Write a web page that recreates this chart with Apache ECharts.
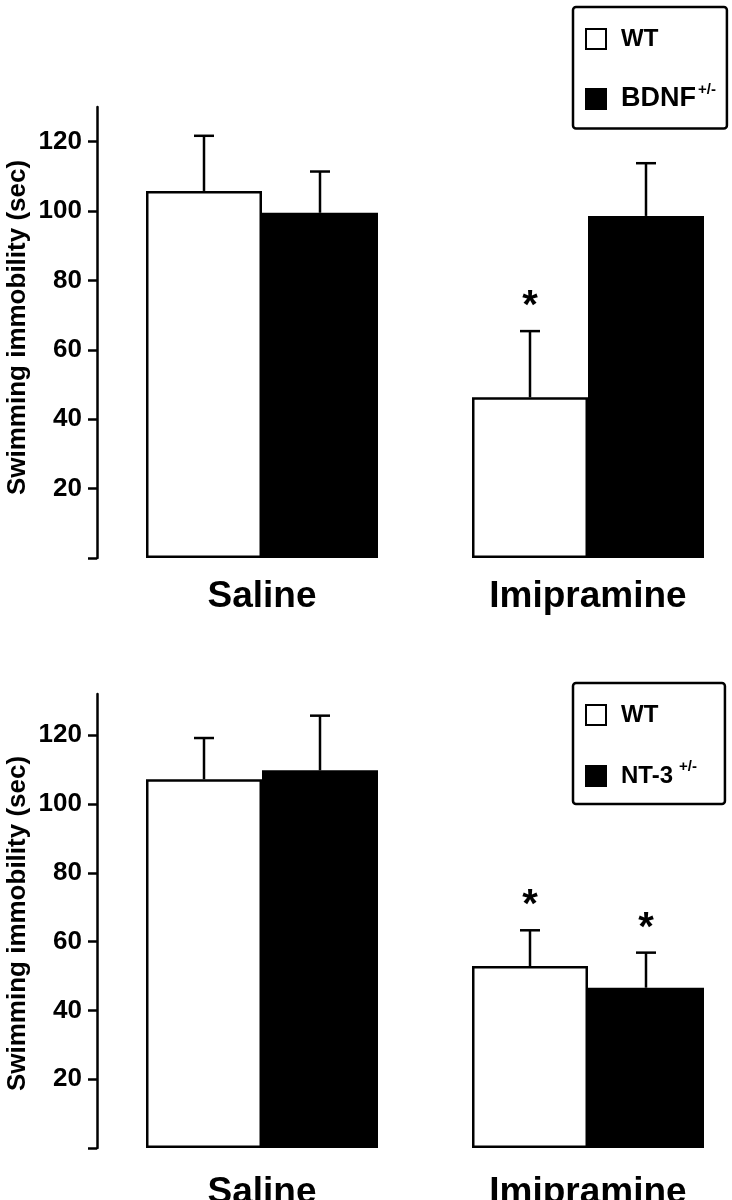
<!DOCTYPE html>
<html><head><meta charset="utf-8">
<script src="https://cdn.jsdelivr.net/npm/echarts@6/dist/echarts.min.js"></script>
<style>html,body{margin:0;padding:0;background:#fff}#c{width:732px;height:1200px}</style>
</head><body><div id="c"></div>
<script>
// ---------- data ----------
const categories = ['Saline', 'Imipramine'];
const yTickValues = [0, 20, 40, 60, 80, 100, 120];
const yLabelValues = [20, 40, 60, 80, 100, 120];
const yTitle = 'Swimming immobility (sec)';
const genotypeSuffix = '+/-';

// Panel 1 (BDNF)
const p1Names = ['WT', 'BDNF'];
const p1WT = [105.8, 46.3];
const p1WTErr = [15.9, 19.1];
const p1Mut = [99.5, 98.6];
const p1MutErr = [11.9, 15.2];
const p1WTSig = [0, 1];
const p1MutSig = [0, 0];

// Panel 2 (NT-3)
const p2Names = ['WT', 'NT-3'];
const p2WT = [107.2, 52.9];
const p2WTErr = [12.0, 10.4];
const p2Mut = [109.8, 46.6];
const p2MutErr = [15.9, 10.2];
const p2WTSig = [0, 1];
const p2MutSig = [0, 1];

// ---------- style ----------
const F = '"Liberation Sans", Arial, Helvetica, sans-serif';
const BAR_W = 116;
const CAP = 20;
const LW = 2.5;

function errData(wt, wtErr, wtSig, mut, mutErr, mutSig) {
  const d = [];
  categories.forEach((c, i) => {
    d.push([i, wt[i], wtErr[i], -1, wtSig[i]]);
    d.push([i, mut[i], mutErr[i], 1, mutSig[i]]);
  });
  return d;
}

function errRender(params, api) {
  const cat = api.value(0), mean = api.value(1), err = api.value(2), side = api.value(3), sig = api.value(4);
  const base = api.coord([cat, mean]);
  const top = api.coord([cat, mean + err]);
  const x = base[0] + side * BAR_W / 2;
  const ch = [
    {type: 'line', shape: {x1: x, y1: base[1], x2: x, y2: top[1]}, style: {stroke: '#000', lineWidth: LW}},
    {type: 'line', shape: {x1: x - CAP / 2, y1: top[1], x2: x + CAP / 2, y2: top[1]}, style: {stroke: '#000', lineWidth: LW}}
  ];
  if (sig) {
    ch.push({type: 'text', x: x, y: top[1] - 24,
      style: {text: '*', font: 'bold 40px ' + F, fill: '#000', align: 'center', verticalAlign: 'middle'}});
  }
  return {type: 'group', children: ch};
}

function yAxis(gi, max, namePad) {
  return {
    type: 'value', gridIndex: gi, min: 0, max: max, interval: 20, offset: 2,
    name: yTitle, nameLocation: 'middle', nameRotate: 90, nameGap: 66, nameMoveOverlap: false,
    nameTextStyle: {fontFamily: F, fontWeight: 'bold', fontSize: 26, color: '#000', padding: namePad},
    axisLine: {show: true, lineStyle: {color: '#000', width: LW}},
    axisTick: {show: true, length: 9, lineStyle: {color: '#000', width: LW}, customValues: yTickValues},
    axisLabel: {margin: 15, fontFamily: F, fontWeight: 'bold', fontSize: 26, color: '#000', customValues: yLabelValues},
    splitLine: {show: false}
  };
}
function xAxis(gi, margin) {
  return {
    type: 'category', gridIndex: gi, data: categories,
    axisLine: {show: false}, axisTick: {show: false},
    axisLabel: {margin: margin, fontFamily: F, fontWeight: 'bold', fontSize: 37, color: '#000'}
  };
}
function bars(gi, names, wt, mut) {
  return [
    {type: 'bar', name: names[0], xAxisIndex: gi, yAxisIndex: gi, data: wt, barWidth: BAR_W, barGap: '0%',
      itemStyle: {color: '#fff', borderColor: '#000', borderWidth: LW}},
    {type: 'bar', name: names[1], xAxisIndex: gi, yAxisIndex: gi, data: mut, barWidth: BAR_W, barGap: '0%',
      itemStyle: {color: '#000', borderColor: '#000', borderWidth: LW}}
  ];
}
function legend(names, top, gap, padding, mutSize, supPad, supLH) {
  return {
    orient: 'vertical', left: 573, top: top, itemGap: gap, padding: padding,
    borderColor: '#000', borderWidth: LW, borderRadius: 3, selectedMode: false,
    icon: 'rect', itemWidth: 20, itemHeight: 20,
    data: [
      {name: names[0], itemStyle: {color: '#fff', borderColor: '#000', borderWidth: 2}},
      {name: names[1], itemStyle: {color: '#000', borderColor: '#000', borderWidth: 2}}
    ],
    formatter: n => n === names[0] ? '{wt|' + n + '}' : '{mut|' + n + '}{sup|' + genotypeSuffix + '}',
    textStyle: {
      padding: [0, 0, 0, 10],
      rich: {
        wt: {fontFamily: F, fontWeight: 'bold', fontSize: 24, lineHeight: 34, color: '#000'},
        mut: {fontFamily: F, fontWeight: 'bold', fontSize: mutSize, lineHeight: 34, color: '#000'},
        sup: {fontFamily: F, fontWeight: 'bold', fontSize: 15, lineHeight: supLH, verticalAlign: 'top', color: '#000', padding: [0, 0, 0, supPad]}
      }
    }
  };
}

const chart = echarts.init(document.getElementById('c'), null, {renderer: 'canvas'});
chart.setOption({
  animation: false,
  backgroundColor: '#fff',
  grid: [
    {left: 99, width: 652, top: 107, height: 451, outerBoundsMode: 'none', containLabel: false},
    {left: 99, width: 652, top: 694, height: 454, outerBoundsMode: 'none', containLabel: false}
  ],
  xAxis: [xAxis(0, 20), xAxis(1, 26)],
  yAxis: [yAxis(0, 130, [0, 0, 0, 10]), yAxis(1, 132, [0, 5, 0, 0])],
  legend: [
    legend(p1Names, 7, 31, [20, 11, 16, 12], 27, 2, 5),
    legend(p2Names, 683, 32, [20, 28, 16, 12], 24, 6, 15)
  ],
  series: [
    ...bars(0, p1Names, p1WT, p1Mut),
    {type: 'custom', xAxisIndex: 0, yAxisIndex: 0, renderItem: errRender, z: 5,
      data: errData(p1WT, p1WTErr, p1WTSig, p1Mut, p1MutErr, p1MutSig)},
    ...bars(1, p2Names, p2WT, p2Mut),
    {type: 'custom', xAxisIndex: 1, yAxisIndex: 1, renderItem: errRender, z: 5,
      data: errData(p2WT, p2WTErr, p2WTSig, p2Mut, p2MutErr, p2MutSig)}
  ]
});
</script></body></html>
